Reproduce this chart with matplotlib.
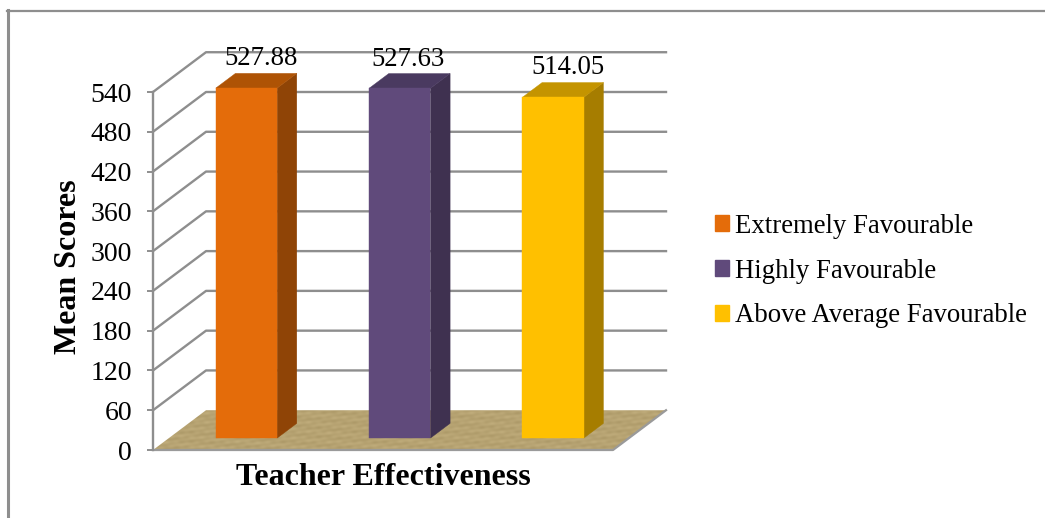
import numpy as np
import matplotlib
matplotlib.use("Agg")
import matplotlib.pyplot as plt
from matplotlib.patches import Polygon, Patch
from matplotlib.lines import Line2D

plt.rcParams["font.family"] = ["Liberation Serif", "DejaVu Serif"]

categories = ["Extremely Favourable", "Highly Favourable", "Above Average Favourable"]
mean_scores = [527.88, 527.63, 514.05]
y_ticks = [0, 60, 120, 180, 240, 300, 360, 420, 480, 540]
face_colors = ["#E46C0A", "#604A7B", "#FFC000"]
side_colors = ["#8F4406", "#3F3150", "#A67D00"]
top_colors = ["#AE5305", "#4A3A60", "#C49400"]

# Pixel nudges for the value labels
label_nudges = [(-4, 2), (-11, 2), (-4, 3)]

W, H = 1045, 518
fig = plt.figure(figsize=(W / 100, H / 100), dpi=100)
fig.patch.set_facecolor("white")

# Plot rectangle of the front plane of the oblique 3-D box
left, right, top, bottom = 153, 613, 92, 450
ax = fig.add_axes([left / W, 1 - bottom / H, (right - left) / W, (bottom - top) / H])
ax.set_xlim(-0.5, 2.5)
ax.set_ylim(0, 540)
ax.patch.set_alpha(0)

GRAY = "#8E8E8E"
DEPTH_X = 0.3457   # full box depth, in category units
DEPTH_Y = 60.0     # full box depth, in value units
BAR_W = 0.40
BAR_SHIFT = 0.006
BAR_FRONT, BAR_BACK = 0.30, 0.67


def proj(x, y, d):
    return (x + d * DEPTH_X, y + d * DEPTH_Y)


x0, x1 = ax.get_xlim()

# Textured floor: a soft woven tan pattern clipped to the parallelogram
floor_pts = [proj(x0, 0, 0), proj(x1, 0, 0), proj(x1, 0, 1), proj(x0, 0, 1)]
yy, xx = np.mgrid[0:60, 0:520]
weave = (0.5 * np.sin(xx * 0.61) * np.sin(yy * 0.43) + 0.6 * np.sin(xx * 0.19 + yy * 0.9)
         + 0.5 * np.sin(xx * 0.07 - yy * 0.5))
base = np.array([0.716, 0.639, 0.447])
tex = np.clip(base[None, None, :] + 0.025 * weave[..., None], 0, 1)
floor = Polygon(floor_pts, closed=True, transform=ax.transData, facecolor="none",
                edgecolor="none")
ax.add_patch(floor)
img = ax.imshow(tex, extent=(x0, x1 + DEPTH_X, 0, DEPTH_Y), aspect="auto",
                zorder=1.5, interpolation="bilinear")
img.set_clip_path(floor)
img.set_clip_box(fig.bbox)
ax.set_xlim(x0, x1)
ax.set_ylim(0, 540)

# Floor edge along the front and right side
ex, ey = zip(proj(x0, 0, 0), proj(x1, 0, 0), proj(x1, 0, 1))
ax.add_line(Line2D(ex, ey, color="#9A9A9A", lw=1.6, zorder=1.6, clip_on=False))

# Gridlines: diagonal on the side wall, horizontal on the back wall
for v in y_ticks[1:]:
    gx, gy = zip(proj(x0, v, 0), proj(x0, v, 1), proj(x1, v, 1))
    ax.add_line(Line2D(gx, gy, color=GRAY, lw=1.7, zorder=1, clip_on=False))

# Bars: front face, side face, top face
for i, (val, fc, sc, tc) in enumerate(zip(mean_scores, face_colors, side_colors, top_colors)):
    xl, xr = i + BAR_SHIFT - BAR_W / 2, i + BAR_SHIFT + BAR_W / 2
    front = [proj(xl, 0, BAR_FRONT), proj(xr, 0, BAR_FRONT),
             proj(xr, val, BAR_FRONT), proj(xl, val, BAR_FRONT)]
    side = [proj(xr, 0, BAR_FRONT), proj(xr, 0, BAR_BACK),
            proj(xr, val, BAR_BACK), proj(xr, val, BAR_FRONT)]
    lid = [proj(xl, val, BAR_FRONT), proj(xr, val, BAR_FRONT),
           proj(xr, val, BAR_BACK), proj(xl, val, BAR_BACK)]
    for pts, col in ((side, sc), (lid, tc), (front, fc)):
        ax.add_patch(Polygon(pts, closed=True, facecolor=col, edgecolor=col, lw=0.3,
                             zorder=3, clip_on=False))
    tx, ty = proj(i, val, BAR_BACK)
    ax.annotate(f"{val:.2f}", (tx, ty), xytext=label_nudges[i], textcoords="offset pixels",
                ha="center", va="bottom", fontsize=19.3, color="black", zorder=5,
                annotation_clip=False)

# Axes furniture
for name in ("top", "right", "bottom"):
    ax.spines[name].set_visible(False)
ax.spines["left"].set_color(GRAY)
ax.spines["left"].set_linewidth(1.7)
ax.set_xticks([])
ax.set_yticks(y_ticks)
ax.tick_params(axis="y", length=4, width=1.4, color=GRAY, labelsize=20, pad=11,
               labelcolor="black")
ax.set_xlabel("Teacher Effectiveness", fontsize=23, fontweight="bold", va="top")
ax.xaxis.set_label_coords((383.5 - left) / (right - left), -13 / (bottom - top))
ax.set_ylabel("Mean Scores", fontsize=23, fontweight="bold", va="center")
ax.yaxis.set_label_coords((69 - left) / (right - left), (bottom - 267) / (bottom - top))

# Legend
handles = [Patch(facecolor=c, edgecolor=c, label=n) for c, n in zip(face_colors, categories)]
fig.legend(handles=handles, loc="center left", bbox_to_anchor=(715 / W, 1 - 271 / H),
           frameon=False, fontsize=19.3, labelspacing=0.74, handlelength=0.52,
           handleheight=0.52, handletextpad=0.22, borderpad=0, borderaxespad=0)

# Outer frame, open on the right and at the bottom
fig.add_artist(Line2D([8 / W, 8 / W], [0, 1 - 10 / H], color="#8E8E8E", lw=2.2,
                      transform=fig.transFigure))
fig.add_artist(Line2D([7 / W, 1], [1 - 11 / H, 1 - 11 / H], color="#8E8E8E", lw=1.6,
                      transform=fig.transFigure))

fig.savefig("out.png", dpi=100, facecolor="white")
